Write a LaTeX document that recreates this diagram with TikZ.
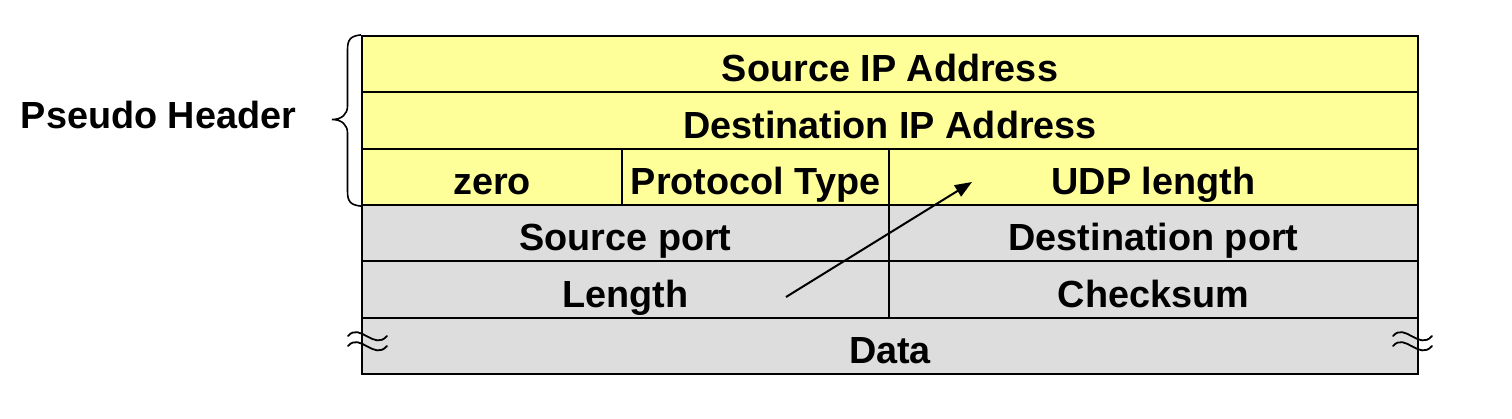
\documentclass[tikz,border=0pt]{standalone}
\usepackage{fontspec}
\setmainfont{Liberation Sans}
\usetikzlibrary{arrows.meta}
\definecolor{hdryellow}{HTML}{FFFF99}
\definecolor{udpgray}{HTML}{DDDDDD}
\tikzset{
  cell/.style={draw=black, line width=2.2pt, inner sep=0pt, minimum height=56.33pt,
    text height=37pt, text depth=2pt, font=\fontsize{37.8}{40}\selectfont\bfseries},
  ycell/.style={cell, fill=hdryellow},
  gcell/.style={cell, fill=udpgray},
  wave/.style={line width=1.8pt, line cap=round},
  lbl/.style={font=\fontsize{37.8}{40}\selectfont\bfseries, inner sep=0pt},
}
\begin{document}
\begin{tikzpicture}[x=1pt,y=-1pt]
\useasboundingbox (0,0) rectangle (1512,418);
% pseudo header rows
\node[ycell, minimum width=1056pt] (srcip) at (890,64.17) {Source IP Address};
\node[ycell, minimum width=1056pt] (dstip) at (890,120.5) {Destination IP Address};
\node[ycell, minimum width=260pt] (zero) at (492,176.83) {zero};
\node[ycell, minimum width=267pt] (proto) at (755.5,176.83) {Protocol Type};
\node[ycell, minimum width=529pt] (udplen) at (1153.5,176.83) {UDP length};
% UDP header rows
\node[gcell, minimum width=527pt] (srcport) at (625.5,233.17) {Source port};
\node[gcell, minimum width=529pt] (dstport) at (1153.5,233.17) {Destination port};
\node[gcell, minimum width=527pt] (length) at (625.5,289.5) {Length};
\node[gcell, minimum width=529pt] (cksum) at (1153.5,289.5) {Checksum};
\node[gcell, minimum width=1056pt] (data) at (890,345.83) {Data};
% label and brace
\node[lbl, anchor=base] (pseudo) at (158.5,128) {Pseudo Header};
\draw[line width=1.6pt] (srcip.north west) .. controls (350,36) and (347.5,40) .. (347.5,50)
  -- (347.5,106) .. controls (347.5,114) and (342,119.5) .. (332,119.5)
  .. controls (342,119.5) and (347.5,125) .. (347.5,133)
  -- (347.5,191) .. controls (347.5,201) and (350,205) .. (zero.south west);
% break marks
\foreach \x/\n in {348/l,1393/r}{
  \draw[wave] (\x,336) .. controls (\x+12,322) and (\x+26,351) .. (\x+39,336);
  \draw[wave] (\x,346) .. controls (\x+12,332) and (\x+26,361) .. (\x+39,346);
}
% arrow
\coordinate (afrom) at (786,297);
\coordinate (ato) at (972,182);
\draw[line width=2pt, -{Triangle[length=17pt,width=13pt]}] (afrom) -- (ato);
\end{tikzpicture}
\end{document}
